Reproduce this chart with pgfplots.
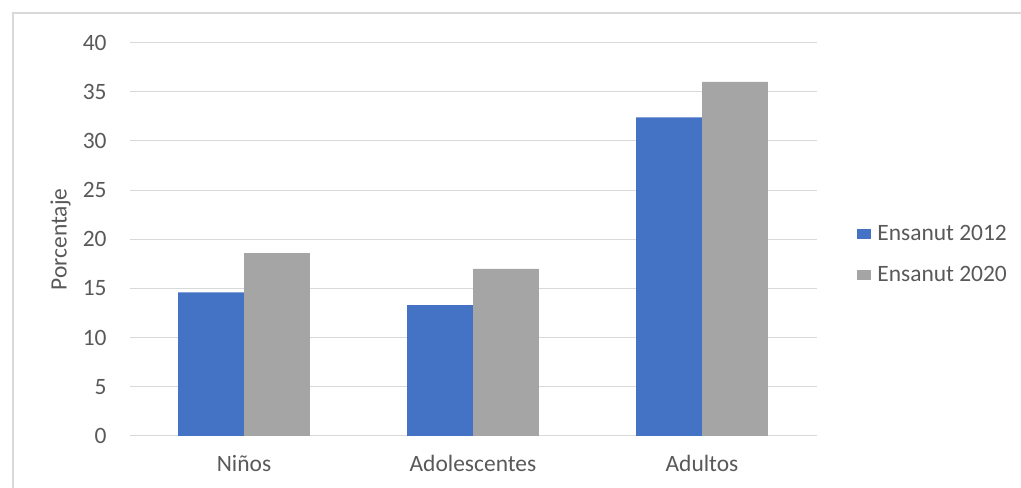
\documentclass[border=0pt]{standalone}
\usepackage{fontspec}
\setmainfont{Carlito}
\usepackage{pgfplots}
\pgfplotsset{compat=1.18}
\definecolor{blueA}{HTML}{4472C4}
\definecolor{grayB}{HTML}{A5A5A5}
\definecolor{gridc}{HTML}{D9D9D9}
\definecolor{txt}{HTML}{595959}
\pgfplotstableread{
x y
0 14.6
1 13.3
2 32.4
}\ensA
\pgfplotstableread{
x y
0 18.6
1 17.0
2 36.0
}\ensB
\begin{document}
\begin{tikzpicture}
\path[use as bounding box] (0,0) rectangle (765.75pt,366pt);
\draw[gridc, line width=0.9pt] (9.75pt,-10pt) -- (9.75pt,356.25pt) -- (780pt,356.25pt);
\begin{axis}[
  at={(97.125pt,39pt)}, anchor=south west,
  scale only axis, width=515.25pt, height=295pt,
  xmin=-0.5, xmax=2.5, ymin=0, ymax=40,
  xtick={0,1,2}, xticklabels={Niños, Adolescentes, Adultos},
  ytick={0,5,...,40},
  /pgf/number format/assume math mode=true,
  axis line style={draw=none}, major tick length=0pt,
  ymajorgrids, grid style={gridc, line width=0.75pt},
  tick label style={font=\fontsize{17.6}{20}\selectfont, text=txt},
  yticklabel style={inner sep=0pt, anchor=east, xshift=-17pt},
  xticklabel style={inner sep=0pt, anchor=north, yshift=-14pt},
  ylabel={Porcentaje},
  ylabel style={at={(axis description cs:-0.1004,0.5)}, anchor=center, font=\fontsize{17.6}{20}\selectfont, text=txt},
  legend style={at={(1.059,0.4615)}, anchor=west, draw=none, fill=none, inner sep=0pt,
    font=\fontsize{17.6}{20}\selectfont, text=txt, row sep=17pt,
    nodes={inner sep=0.5pt}},
  legend cell align=left,
  legend image code/.code={\fill[#1,draw=none] (0pt,-3.85pt) rectangle (10.5pt,3.85pt); \path (14.5pt,0pt);},
]
\addplot[ybar, bar width=0.288, bar shift=-0.144, fill=blueA, draw=none] table[x=x,y=y]{\ensA};
\addplot[ybar, bar width=0.288, bar shift=0.144, fill=grayB, draw=none] table[x=x,y=y]{\ensB};
\legend{Ensanut 2012, Ensanut 2020}
\end{axis}
\end{tikzpicture}
\end{document}
